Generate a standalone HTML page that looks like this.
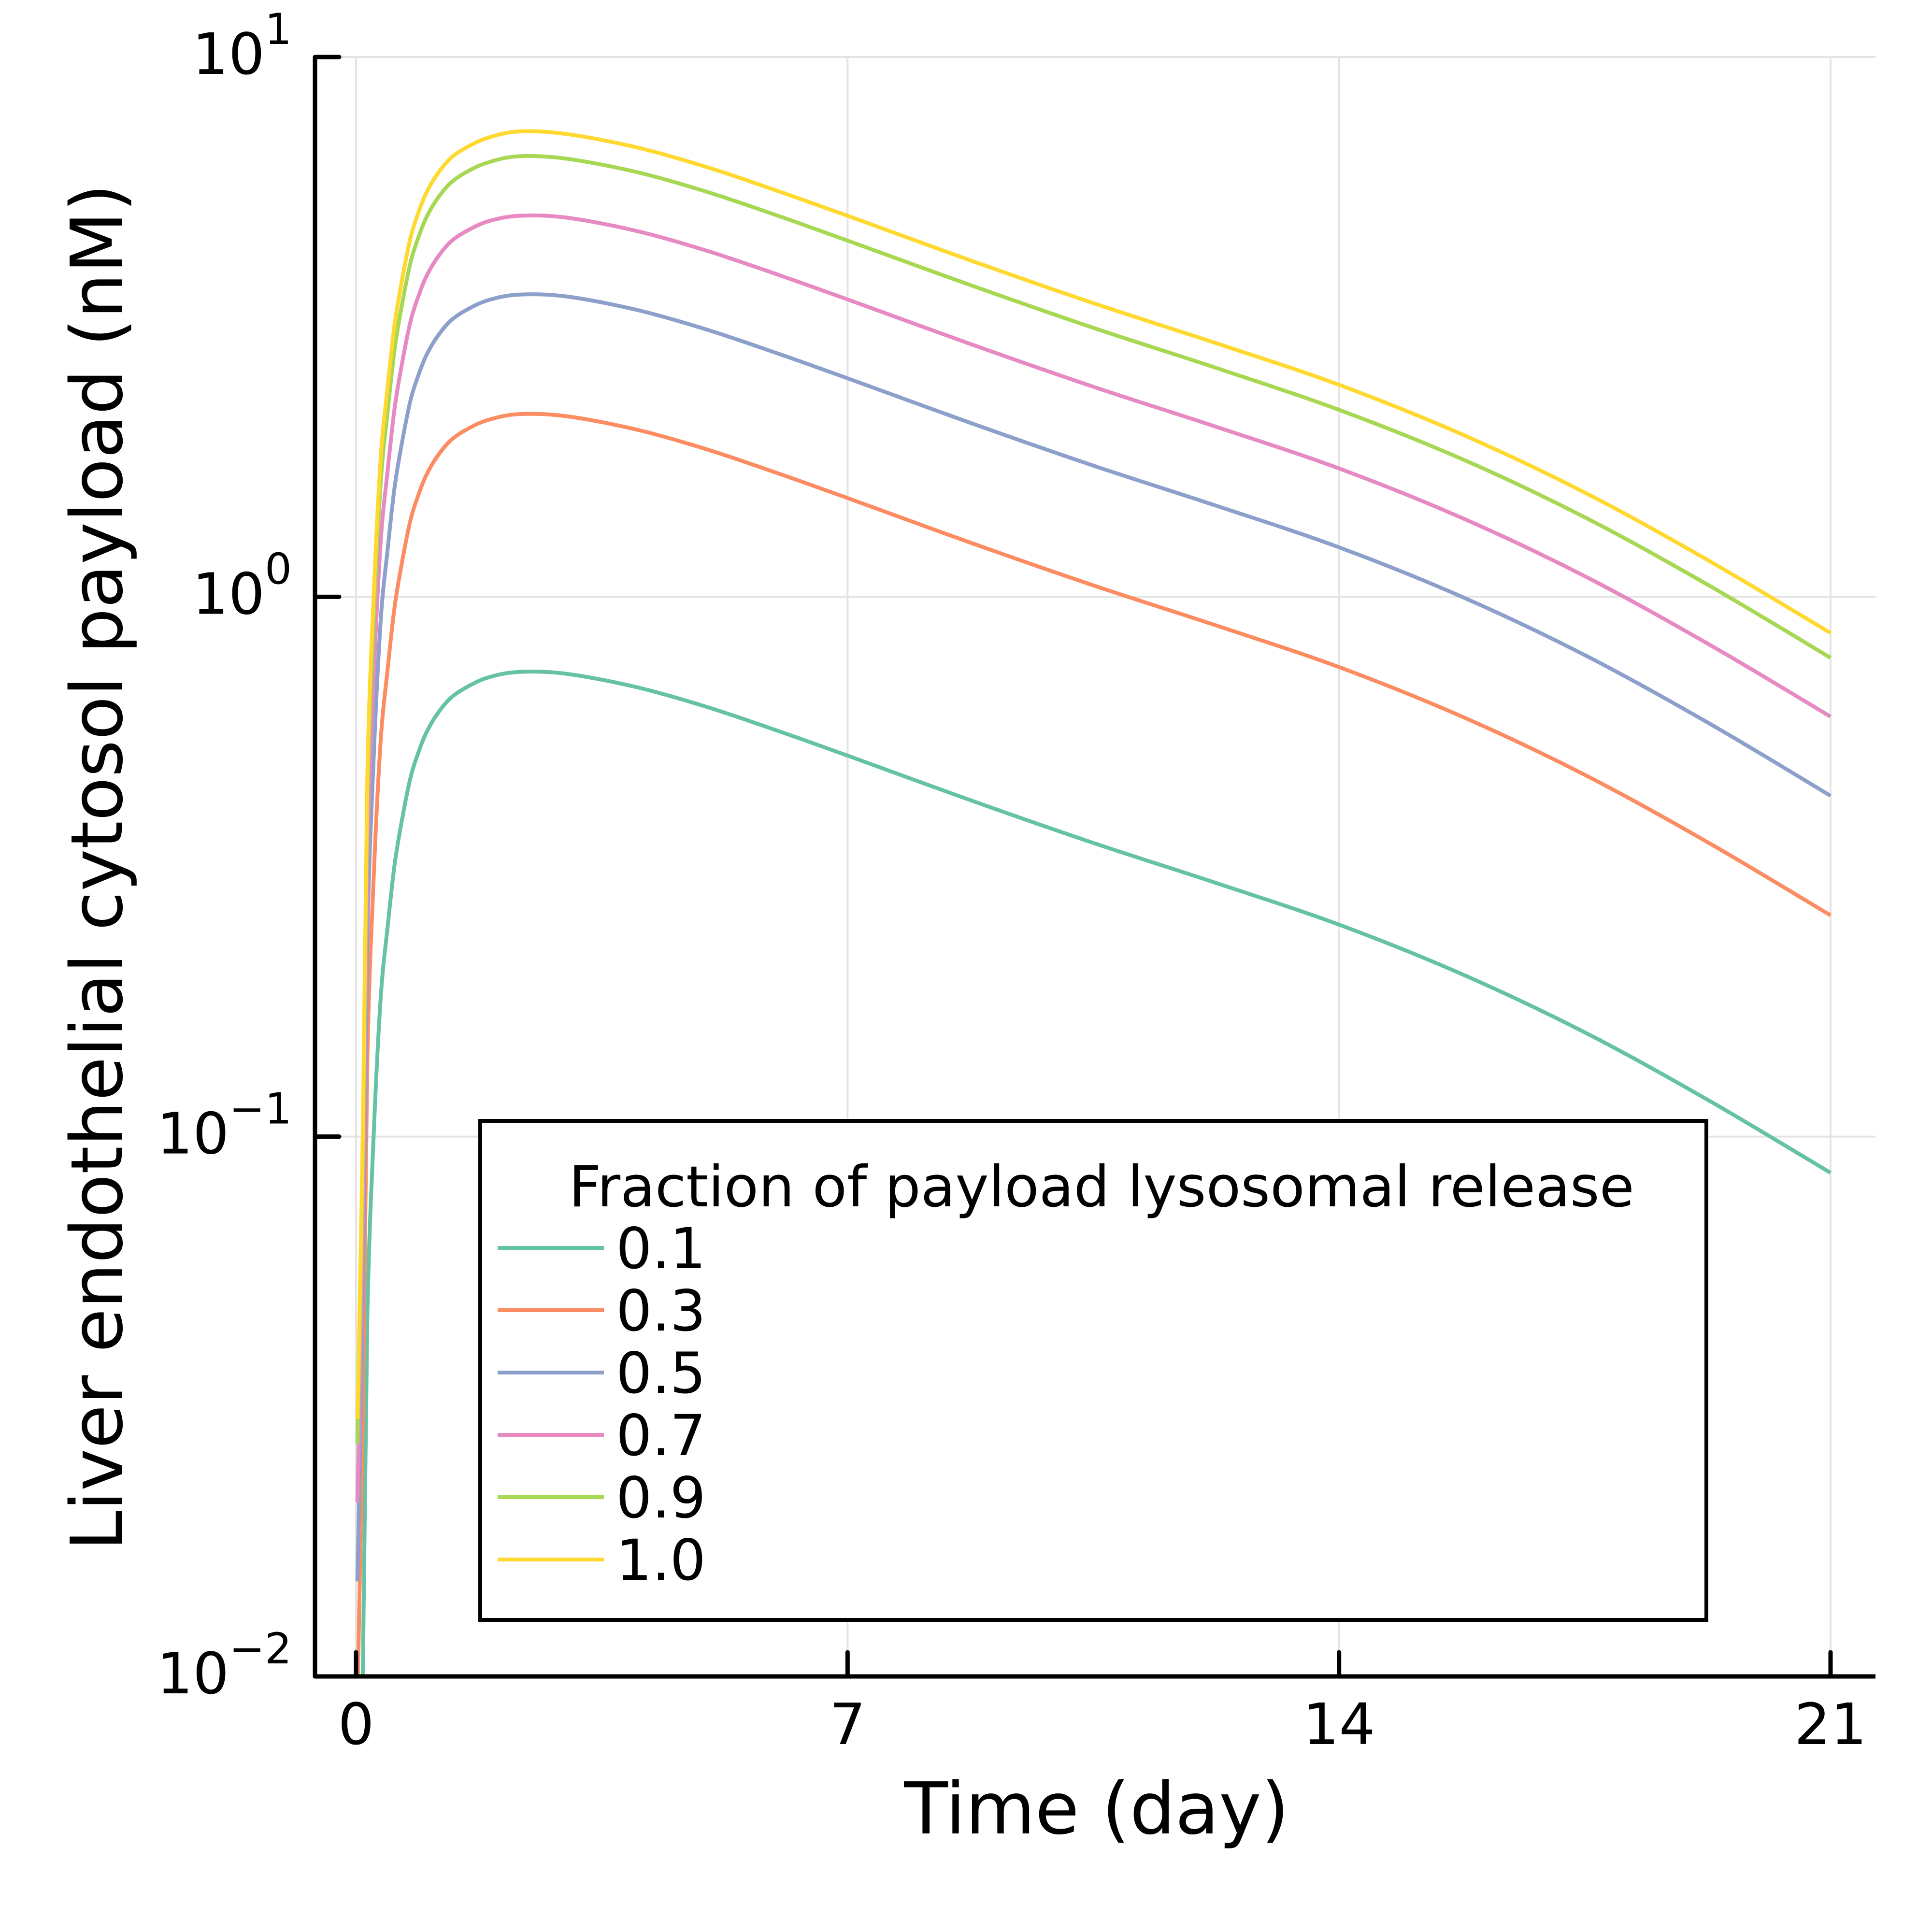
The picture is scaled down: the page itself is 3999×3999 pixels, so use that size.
<!DOCTYPE html>
<html><head><meta charset="utf-8"><style>html,body{margin:0;padding:0;background:#fff}svg{display:block}</style></head>
<body>
<svg id="chart" width="3999" height="3999" viewBox="0 0 3999 3999" xmlns="http://www.w3.org/2000/svg" font-family="'DejaVu Sans','Liberation Sans',sans-serif">
<defs><clipPath id="clip"><rect x="652" y="118" width="3230" height="3352"/></clipPath></defs>
<g id="grid"></g>
<g id="series" clip-path="url(#clip)"></g>
<g id="axes"></g>
<text x="2270" y="3795" font-size="148" text-anchor="middle">Time (day)</text>
<text transform="translate(252,1795) rotate(-90)" font-size="148" text-anchor="middle">Liver endothelial cytosol payload (nM)</text>
<g id="legend"></g>
</svg>
<script>
const times = [0.02,0.1,0.16,0.25,0.35,0.45,0.55,0.66,0.78,0.9,1.0,1.15,1.35,1.6,1.9,2.33,3,4,5,6,7,8.75,10.5,12.25,14,15.75,17.5,19.25,21];
const seriesNames = ["0.1","0.3","0.5","0.7","0.9","1.0"];
const s01 = [0.003,0.011,0.046,0.10,0.18,0.245,0.32,0.39,0.465,0.52,0.56,0.605,0.65,0.683,0.71,0.726,0.72,0.68,0.625,0.565,0.508,0.42,0.35,0.295,0.247,0.2,0.156,0.117,0.0857];
const s03 = [0.009,0.033,0.138,0.30,0.54,0.735,0.96,1.17,1.395,1.56,1.68,1.815,1.95,2.05,2.13,2.18,2.16,2.04,1.875,1.695,1.524,1.26,1.05,0.885,0.741,0.60,0.468,0.351,0.257];
const s05 = [0.015,0.055,0.23,0.50,0.90,1.225,1.60,1.95,2.325,2.60,2.80,3.025,3.25,3.415,3.55,3.63,3.60,3.40,3.125,2.825,2.54,2.10,1.75,1.475,1.235,1.00,0.78,0.585,0.428];
const s07 = [0.021,0.077,0.322,0.70,1.26,1.715,2.24,2.73,3.255,3.64,3.92,4.235,4.55,4.78,4.97,5.08,5.04,4.76,4.375,3.955,3.556,2.94,2.45,2.065,1.729,1.40,1.092,0.819,0.60];
const s09 = [0.027,0.099,0.414,0.90,1.62,2.205,2.88,3.51,4.185,4.68,5.04,5.445,5.85,6.15,6.39,6.55,6.48,6.12,5.625,5.085,4.57,3.78,3.15,2.655,2.22,1.80,1.404,1.053,0.771];
const s10 = [0.03,0.11,0.46,1.00,1.80,2.45,3.20,3.90,4.65,5.20,5.60,6.05,6.50,6.83,7.10,7.28,7.20,6.80,6.25,5.65,5.08,4.20,3.50,2.95,2.47,2.00,1.56,1.17,0.857];
const xTicks = [0,7,14,21];
const yTickExps = [-2,-1,0,1];

const NS="http://www.w3.org/2000/svg";
const L=652,R=3882,T=118,B=3470;
const x0=737,x21=3789;
function X(t){return x0+(t/21)*(x21-x0);}
function Y(v){const lg=Math.log10(v);return B-(lg+2)/3*(B-T);}
function mk(tag,attrs,parent){const e=document.createElementNS(NS,tag);for(const k in attrs)e.setAttribute(k,attrs[k]);parent.appendChild(e);return e;}
const grid=document.getElementById('grid'),axes=document.getElementById('axes'),ser=document.getElementById('series'),leg=document.getElementById('legend');
xTicks.forEach(t=>{
  const g=mk('line',{x1:X(t),x2:X(t),y1:T,y2:B,stroke:'#e4e4e4','stroke-width':4},grid);
  
  
  const tk=mk('line',{x1:X(t),x2:X(t),y1:B,y2:B-50,stroke:'#000','stroke-width':9,'stroke-linecap':'round'},axes);
  
  
  const lb=mk('text',{x:X(t),y:3610,'font-size':118,'text-anchor':'middle'},axes);
  lb.textContent=t;
  
  
});
yTickExps.forEach(e=>{
  const y=Y(Math.pow(10,e));
  const g=mk('line',{x1:L,x2:R,y1:y,y2:y,stroke:'#e4e4e4','stroke-width':4},grid);
  
  
  const tk=mk('line',{x1:L,x2:L+50,y1:y,y2:y,stroke:'#000','stroke-width':9,'stroke-linecap':'round'},axes);
  
  
  const lb=mk('text',{x:604,y:y+35,'font-size':118,'text-anchor':'end'},axes);
  
  
  const b=mk('tspan',{},lb);b.textContent='10';
  const s=mk('tspan',{dy:-62,'font-size':88},lb);s.textContent=(e<0?'\u2212':'')+Math.abs(e);
});
const ax=mk('path',{d:`M${L},${T} L${L},${B} L${R},${B}`,fill:'none',stroke:'#000','stroke-width':9,'stroke-linejoin':'round'},axes);



const data=[s01,s03,s05,s07,s09,s10];
const colors=['#66c2a5','#fc8d62','#8da0cb','#e78ac3','#a6d854','#ffd92f'];
function pathFor(vals){
  const p=times.map((t,i)=>[X(t),Y(vals[i])]);
  let d=`M${p[0][0]},${p[0][1]}`;
  for(let i=0;i<p.length-1;i++){
    const p0=p[Math.max(0,i-1)],p1=p[i],p2=p[i+1],p3=p[Math.min(p.length-1,i+2)];
    const c1=[p1[0]+(p2[0]-p0[0])/6,p1[1]+(p2[1]-p0[1])/6];
    const c2=[p2[0]-(p3[0]-p1[0])/6,p2[1]-(p3[1]-p1[1])/6];
    d+=` C${c1[0]},${c1[1]} ${c2[0]},${c2[1]} ${p2[0]},${p2[1]}`;
  }
  return d;
}
data.forEach((vals,i)=>{
  const ln=mk('path',{d:pathFor(vals),fill:'none',stroke:colors[i],'stroke-width':8,'stroke-linejoin':'round'},ser);
  
  
});
const box=mk('rect',{x:994,y:2320,width:2538,height:1033,fill:'#fff',stroke:'#000','stroke-width':8},leg);


const lt=mk('text',{x:2280,y:2497,'font-size':117,'text-anchor':'middle'},leg);
lt.textContent='Fraction of payload lysosomal release';


seriesNames.forEach((n,i)=>{
  const y=2583+i*129;
  const l=mk('line',{x1:1030,x2:1250,y1:y,y2:y,stroke:colors[i],'stroke-width':8},leg);
  
  
  const t=mk('text',{x:1275,y:y+42,'font-size':117},leg);
  t.textContent=n;
  
  
});
</script>
</body></html>
